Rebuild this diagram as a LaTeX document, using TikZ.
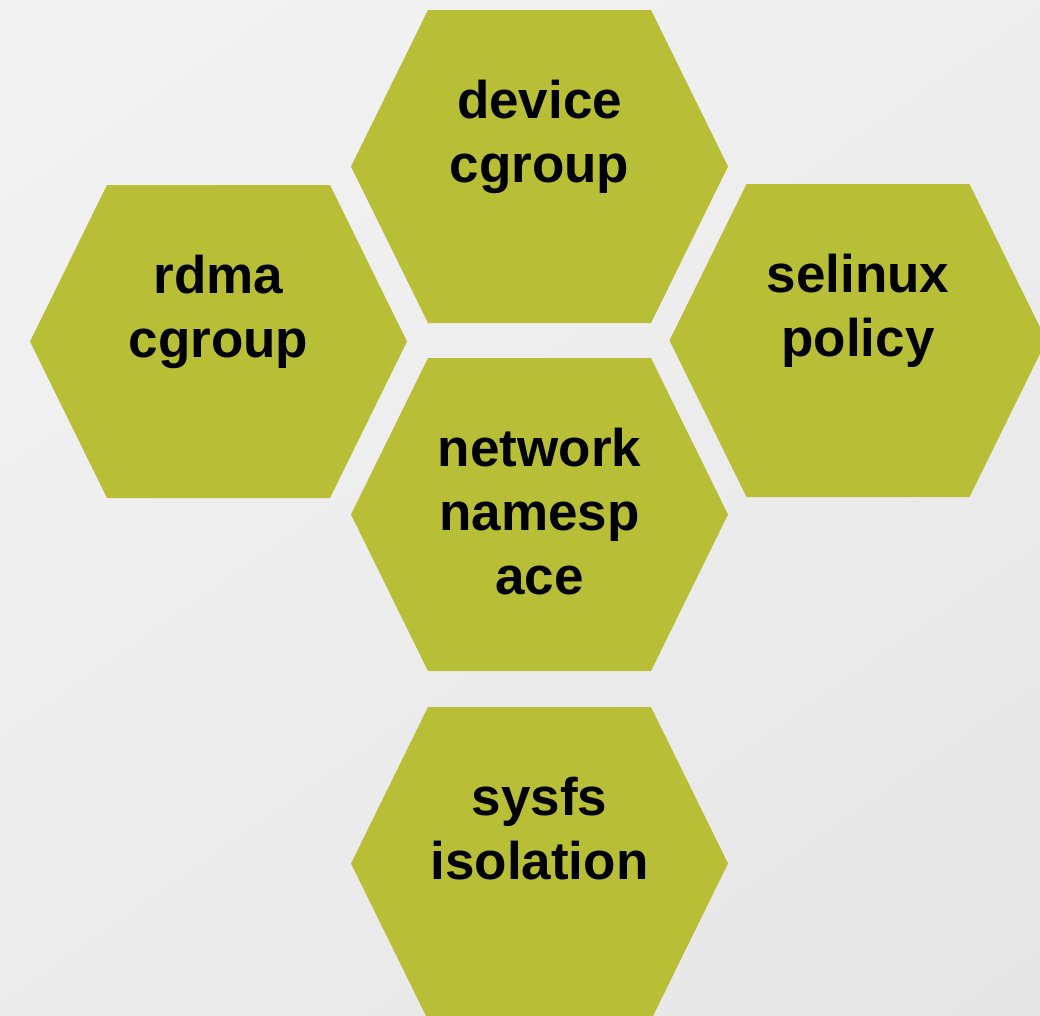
\documentclass[tikz,border=0pt]{standalone}
\usepackage{fontspec}
\setmainfont{Liberation Sans}
\definecolor{hexfill}{RGB}{184,191,55}
\definecolor{bglight}{RGB}{243,243,243}
\definecolor{bgdark}{RGB}{230,230,230}
\tikzset{
  hexcell/.style={fill=hexfill, draw=none},
  hexlabel/.style={font=\fontsize{53}{64}\selectfont\bfseries, align=center, anchor=base, inner sep=0pt, text=black}
}
% \hexcell{name}{cx}{cy}{extra lines}{label}: flat-topped hexagon,
% label's first baseline 48pt above the centre
\newcommand{\hexcell}[5]{%
  \fill[hexcell] (#2-188.5,#3) -- (#2-111.5,#3-156.5) -- (#2+111.5,#3-156.5)
    -- (#2+188.5,#3) -- (#2+111.5,#3+156.5) -- (#2-111.5,#3+156.5) -- cycle;
  \node[hexlabel] (#1) at (#2,#3-48+64*#4) {#5};
}
\begin{document}
\begin{tikzpicture}[x=1pt,y=-1pt]
  \useasboundingbox (0,0) rectangle (1040,1015);
  \clip (0,0) rectangle (1040,1015);
  \shade[top color=bglight, bottom color=bgdark, shading angle=35] (-200,-200) rectangle (1240,1215);
  \hexcell{device}{539.5}{166.5}{1}{device\\cgroup}
  \hexcell{rdma}{218.5}{341.5}{1}{rdma\\cgroup}
  \hexcell{selinux}{858}{340.5}{1}{selinux\\policy}
  \hexcell{network}{539.5}{514.5}{2}{network\\namesp\\ace}
  \hexcell{sysfs}{539.5}{863.5}{1}{sysfs\\isolation}
\end{tikzpicture}
\end{document}
